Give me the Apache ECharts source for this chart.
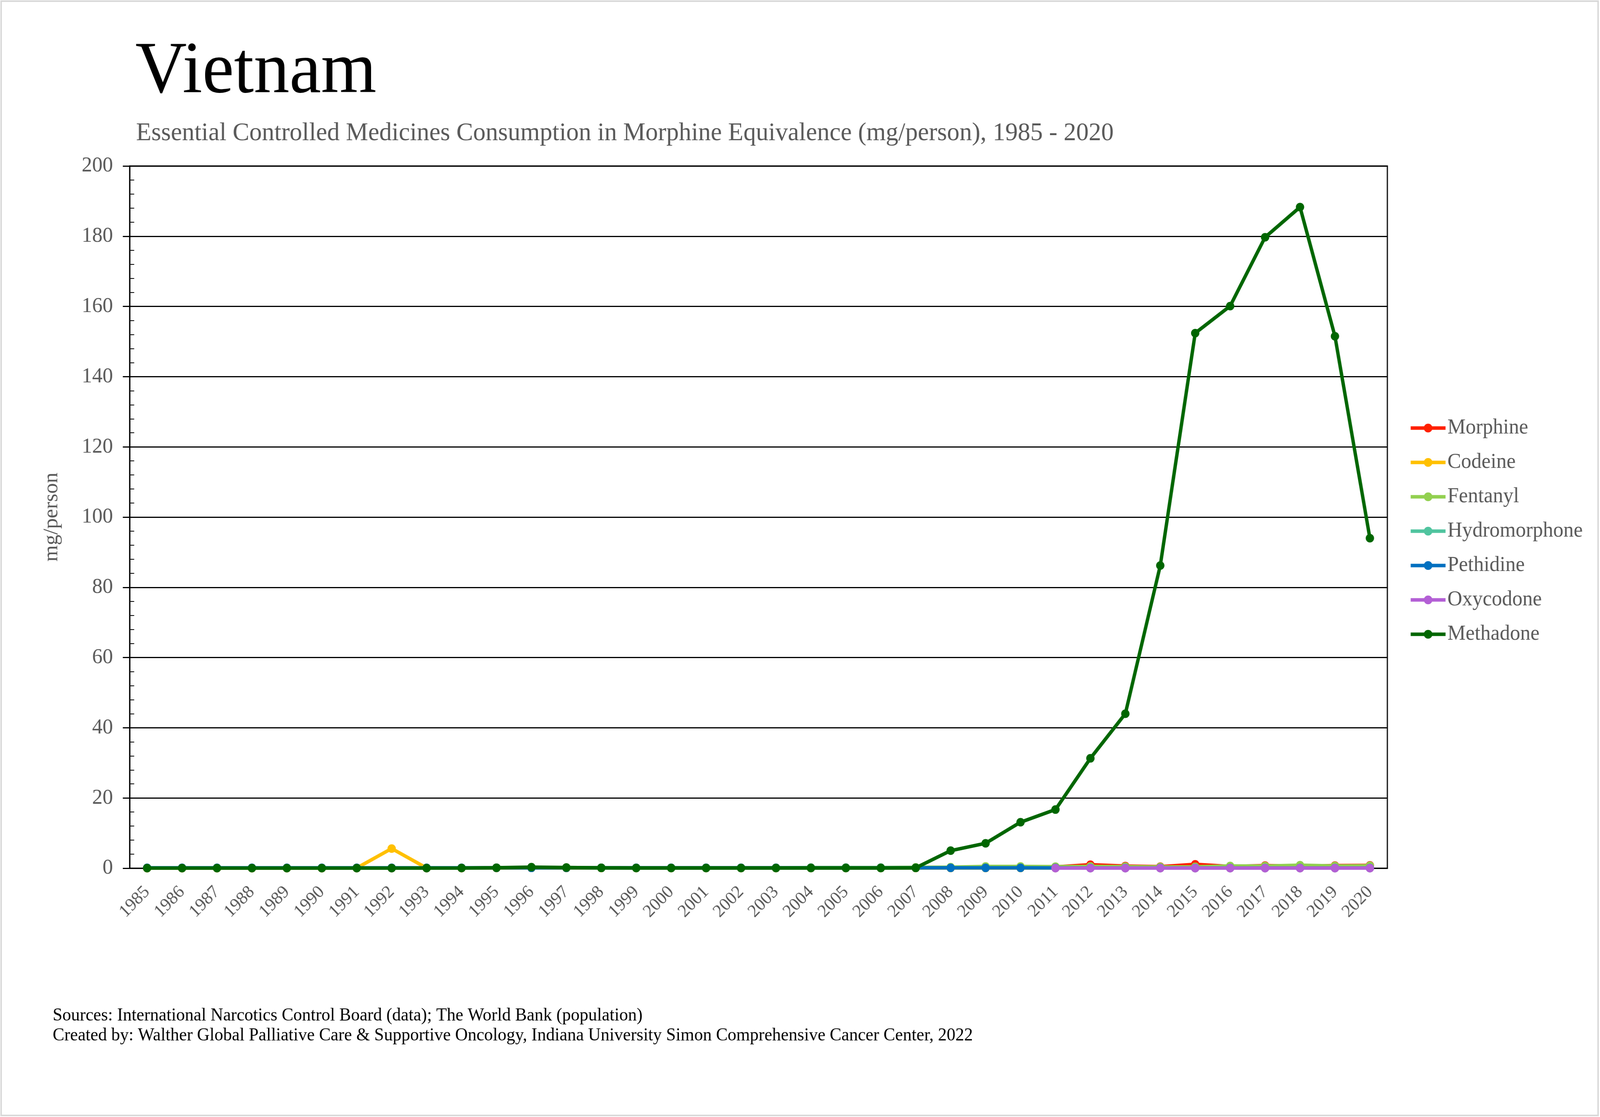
<!DOCTYPE html>
<html>
<head>
<meta charset="utf-8">
<script src="https://cdn.jsdelivr.net/npm/echarts@6/dist/echarts.min.js"></script>
<style>html,body{margin:0;padding:0;background:#fff;overflow:hidden;}#c{width:4221px;height:2860px;transform-origin:0 0;}</style>
</head>
<body>
<div id="c"></div>
<script>
const years = ['1985','1986','1987','1988','1989','1990','1991','1992','1993','1994','1995','1996','1997','1998','1999','2000','2001','2002','2003','2004','2005','2006','2007','2008','2009','2010','2011','2012','2013','2014','2015','2016','2017','2018','2019','2020'];
const yTicks = [0,20,40,60,80,100,120,140,160,180,200];
const morphine = [0.05,0.05,0.05,0.05,0.05,0.05,0.05,0.05,0.05,0.05,0.08,0.1,0.1,0.08,0.08,0.08,0.08,0.08,0.08,0.1,0.1,0.1,0.12,0.15,0.25,0.3,0.35,1.0,0.6,0.45,1.1,0.5,0.75,0.6,0.75,0.8];
const codeine = [0.02,0.02,0.02,0.02,0.02,0.02,0.05,5.6,0.05,0.05,0.05,0.1,0.05,0.05,0.05,0.05,0.05,0.05,0.05,0.05,0.05,0.05,0.05,0.05,0.05,0.05,0.05,0.05,0.05,0.05,0.05,0.05,0.05,0.05,0.05,0.05];
const fentanyl = [null,null,null,null,null,null,null,null,null,null,null,null,0.2,0.1,0.1,0.1,0.1,0.1,0.1,0.2,0.2,0.2,0.25,0.3,0.5,0.5,0.45,0.5,0.45,0.35,0.4,0.65,0.6,0.85,0.65,0.7];
const hydromorphone = [null,null,null,null,null,null,null,null,null,null,null,null,null,null,null,null,null,null,null,null,null,null,null,null,null,null,null,null,null,null,null,null,null,null,null,null];
const pethidine = [0.1,0.1,0.1,0.1,0.1,0.1,0.1,0.1,0.1,0.1,0.1,0.1,0.1,0.1,0.1,0.1,0.1,0.1,0.1,0.1,0.1,0.1,0.1,0.1,0.1,0.1,0.08,0.05,0.05,0.05,0.05,0.05,0.05,0.05,0.05,0.05];
const oxycodone = [null,null,null,null,null,null,null,null,null,null,null,null,null,null,null,null,null,null,null,null,null,null,null,null,null,null,0.02,0.02,0.02,0.02,0.02,0.02,0.02,0.02,0.02,0.02];
const methadone = [0.02,0.02,0.02,0.02,0.02,0.02,0.02,0.02,0.02,0.05,0.15,0.3,0.2,0.1,0.05,0.05,0.05,0.05,0.05,0.05,0.05,0.05,0.1,5.0,7.1,13.1,16.7,31.3,44.0,86.2,152.4,160.1,179.7,188.3,151.5,94.0];

const seriesNames = ['Morphine','Codeine','Fentanyl','Hydromorphone','Pethidine','Oxycodone','Methadone'];
const seriesData = [morphine,codeine,fentanyl,hydromorphone,pethidine,oxycodone,methadone];
const seriesColors = ['#FF2000','#FFC000','#92D050','#50C49F','#0070C0','#B35FD5','#006600'];

// The design is laid out at 4221 px wide; fit it to the real viewport width.
const el = document.getElementById('c');
const vw = window.innerWidth || 4221;
const sx = Math.min(1, vw / 4221);
el.style.transform = 'scale(' + sx + ',1)';

const FONT = '"Liberation Serif", "Times New Roman", serif';
const chart = echarts.init(el, null, {renderer:'canvas'});
const yMin = yTicks[0], yMax = yTicks[yTicks.length-1];
const option = {
  animation: false,
  backgroundColor: '#ffffff',
  textStyle: {fontFamily: FONT},
  title: [
    {text:'Vietnam', left:352, top:88, textStyle:{fontFamily:FONT, fontSize:188, fontWeight:'normal', color:'#000000'}},
    {text:'Essential Controlled Medicines Consumption in Morphine Equivalence (mg/person), 1985 - 2020', left:354, top:304, textStyle:{fontFamily:FONT, fontSize:66, fontWeight:'normal', color:'#595959'}},
    {text:'Sources: International Narcotics Control Board (data); The World Bank (population)', left:134, top:2573, textStyle:{fontFamily:FONT, fontSize:46, fontWeight:'normal', color:'#000000'}},
    {text:'Created by: Walther Global Palliative Care & Supportive Oncology, Indiana University Simon Comprehensive Cancer Center, 2022', left:134, top:2624, textStyle:{fontFamily:FONT, fontSize:46, fontWeight:'normal', color:'#000000'}}
  ],
  graphic: [
    {type:'rect', shape:{x:3, y:3, width:4213, height:2853}, style:{fill:null, stroke:'#d9d9d9', lineWidth:4}, silent:true}
  ],
  legend: {
    orient:'vertical', left:3712, top:1064,
    itemWidth:92, itemHeight:28, itemGap:34,
    lineStyle:{width:9},
    textStyle:{fontFamily:FONT, fontSize:54, color:'#595959', lineHeight:54},
    data: seriesNames
  },
  grid: {left:342, right:561, top:425, bottom:637, show:true, borderColor:'#000000', borderWidth:3, backgroundColor:'transparent'},
  xAxis: {
    type:'category', data:years, boundaryGap:true,
    axisLine:{show:true, lineStyle:{color:'#000000', width:3}},
    axisTick:{show:false},
    axisLabel:{rotate:45, fontFamily:FONT, fontSize:46, color:'#595959', margin:54, interval:0}
  },
  yAxis: [
    {
      type:'value', min:yMin, max:yMax, interval:20, position:'left',
      name:'mg/person', nameLocation:'middle', nameGap:178, nameRotate:90,
      nameTextStyle:{fontFamily:FONT, fontSize:54, color:'#595959'},
      axisLine:{show:true, lineStyle:{color:'#000000', width:3}},
      axisTick:{show:true, inside:false, length:18, lineStyle:{color:'#000000', width:3}},
      minorTick:{show:false},
      axisLabel:{fontFamily:FONT, fontSize:55, color:'#595959', margin:44},
      splitLine:{show:true, lineStyle:{color:'#000000', width:3}}
    },
    {
      type:'value', min:yMin, max:yMax, interval:20, position:'left', offset:0,
      axisLine:{show:false},
      axisTick:{show:false, inside:true},
      minorTick:{show:true, splitNumber:5, length:12, lineStyle:{color:'#000000', width:2}},
      axisLabel:{show:false},
      splitLine:{show:false}
    }
  ],
  series: seriesNames.map((n,i)=>({
    name:n, type:'line', data:seriesData[i], yAxisIndex:0,
    symbol:'circle', symbolSize:22, showSymbol:true,
    lineStyle:{color:seriesColors[i], width:9},
    itemStyle:{color:seriesColors[i]},
    z: 2+i
  }))
};
chart.setOption(option);
</script>
</body>
</html>
